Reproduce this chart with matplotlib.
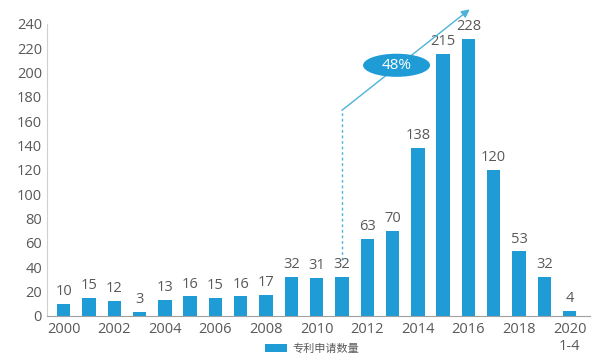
import matplotlib
matplotlib.use("Agg")
import matplotlib.pyplot as plt
from matplotlib.patches import Ellipse, Patch

plt.rcParams['font.family'] = ['Open Sans', 'Noto Sans CJK SC', 'DejaVu Sans']

years = ["2000", "2001", "2002", "2003", "2004", "2005", "2006", "2007", "2008", "2009",
         "2010", "2011", "2012", "2013", "2014", "2015", "2016", "2017", "2018", "2019", "2020\n1-4"]
values = [10, 15, 12, 3, 13, 16, 15, 16, 17, 32, 31, 32, 63, 70, 138, 215, 228, 120, 53, 32, 4]
tick_labels = [y if i % 2 == 0 else "" for i, y in enumerate(years)]
growth_label = "48%"
legend_label = "专利申请数量"

blue = '#1f9bd5'
gray = '#595959'

fig = plt.figure(figsize=(6, 3.57), dpi=100)
ax = fig.add_axes([0.078, 0.115, 0.905, 0.818])
x = list(range(len(values)))
ax.bar(x, values, width=0.53, color=blue, zorder=2)
for xi, v in zip(x, values):
    ax.text(xi, v + 4, str(v), ha='center', va='bottom', fontsize=10.5, color=gray)

ax.set_xlim(-0.67, 20.8)
ax.set_ylim(0, 240)
ax.set_yticks(range(0, 241, 20))
ax.set_xticks(x)
ax.set_xticklabels(tick_labels)
ax.tick_params(axis='both', length=0, labelsize=10.5, colors=gray)
ax.tick_params(axis='x', pad=4)
for s in ['top', 'right']:
    ax.spines[s].set_visible(False)
ax.spines['left'].set_color('#d0d0d0')
ax.spines['bottom'].set_color('#a0a0a0')

# growth arrow
ax.plot([11, 11], [46, 169], color='#4db3d9', lw=1, ls=(0, (2, 2)), clip_on=False)
ax.annotate('', xy=(16.05, 252), xytext=(11, 169),
            arrowprops=dict(arrowstyle='-|>', color='#4db3d9', lw=1, mutation_scale=12,
                            shrinkA=0, shrinkB=0),
            annotation_clip=False)
ell = Ellipse((13.16, 206), 2.65, 19, facecolor=blue, edgecolor='none', zorder=3)
ax.add_patch(ell)
ax.text(13.16, 206, growth_label, ha='center', va='center', color='white', fontsize=11, zorder=4)

# legend at the very bottom
fig.legend(handles=[Patch(facecolor=blue, label=legend_label)], loc='lower left',
           bbox_to_anchor=(0.43, -0.012), frameon=False, fontsize=8, borderpad=0.1,
           handlelength=2.0, handleheight=0.8, handletextpad=0.5, labelcolor=gray)

fig.savefig('out.png', dpi=100)
